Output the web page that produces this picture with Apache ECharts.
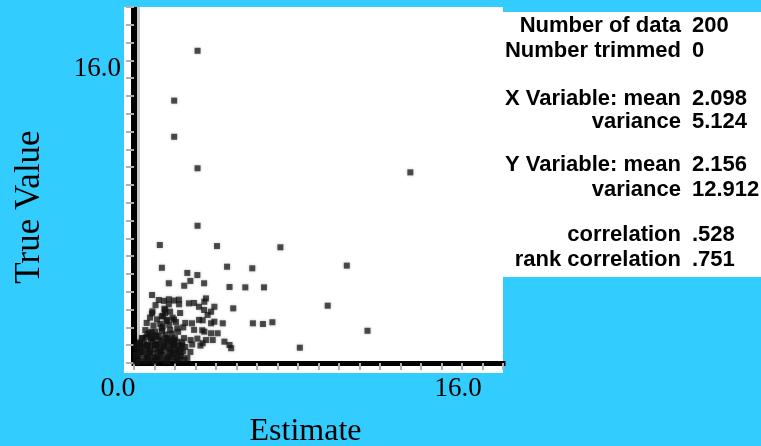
<!DOCTYPE html>
<html>
<head>
<meta charset="utf-8">
<script src="https://cdn.jsdelivr.net/npm/echarts@6/dist/echarts.min.js"></script>
<style>
html,body{margin:0;padding:0;background:#33ccff;}
#c{width:761px;height:446px;}
</style>
</head>
<body>
<div id="c"></div>
<script>
// Scatter data: Estimate (x) vs True Value (y)
const estimateValues = [
  3.10,1.96,1.96,3.10,13.48,3.10,1.26,4.05,7.14,1.36,
  4.54,5.77,10.38,9.45,11.39,8.09,4.66,5.43,6.34,5.80,
  6.29,6.75,4.84,1.70,2.60,3.09,2.75,2.45,3.42,0.88,
  1.21,1.46,1.70,1.95,2.19,2.68,2.93,3.17,0.88,1.52,
  1.76,2.25,3.42,1.62,1.95,2.50,2.83,3.17,0.55,1.03,
  1.37,1.76,2.11,2.93,3.33,0.39,0.88,1.21,1.62,1.95,
  2.44,2.76,3.09,0.64,1.03,1.46,1.95,2.35,2.84,3.24,
  0.29,0.78,1.27,1.76,2.25,2.75,0.15,0.64,1.13,1.62,
  2.11,2.60,3.51,3.43,3.92,3.76,3.59,3.35,3.76,3.92,
  4.33,3.43,3.76,4.08,3.51,3.84,4.41,4.66,4.74,3.35,
  0.10,0.20,0.30,0.45,0.55,0.70,0.85,0.95,1.05,1.20,
  1.35,1.50,1.65,1.80,1.95,2.10,2.30,2.45,0.15,0.35,
  0.50,0.65,0.80,1.00,1.15,1.30,1.45,1.60,1.75,1.90,
  2.05,2.20,0.30,0.65,2.40,0.60,0.75,0.92,1.10,1.25,
  1.40,1.55,1.70,1.85,2.00,2.15,2.35,0.18,1.35,1.48,
  0.62,0.78,0.95,1.12,1.28,1.42,1.58,1.72,1.88,2.05,
  0.08,0.22,0.38,0.58,0.72,0.88,1.02,1.18,1.32,1.48,
  1.62,1.78,1.92,2.08,2.25,2.40,0.10,0.28,0.42,0.85,
  0.68,0.82,0.98,1.08,1.22,1.38,1.52,1.68,1.82,1.98,
  2.12,2.28,0.45,2.20,1.35,1.52,1.70,0.90,1.05,2.50
];
const trueValues = [
  17.54,14.74,12.71,10.94,10.71,7.71,6.63,6.57,6.50,5.35,
  5.41,5.32,5.47,3.22,1.81,0.86,4.27,4.25,4.25,2.23,
  2.19,2.29,3.07,4.48,5.06,4.94,4.61,4.34,4.48,3.82,
  3.54,3.49,3.58,3.51,3.56,3.35,3.37,3.16,2.79,2.98,
  2.88,2.81,2.98,2.42,2.44,2.25,2.23,2.42,1.85,1.76,
  1.78,1.85,1.95,1.86,1.84,1.39,1.41,1.48,1.38,1.29,
  1.40,1.29,1.37,1.01,1.03,0.99,1.02,1.00,1.04,0.98,
  0.62,0.64,0.60,0.63,0.61,0.62,0.28,0.30,0.27,0.29,
  0.26,0.28,3.63,3.44,3.16,2.88,2.70,2.40,2.23,2.32,
  2.23,1.76,1.67,1.67,1.29,1.29,1.20,1.01,0.83,1.11,
  0.10,0.35,0.15,0.50,0.20,0.40,0.12,0.55,0.30,0.18,
  0.45,0.10,0.35,0.22,0.50,0.12,0.40,0.18,0.70,0.85,
  1.10,0.75,0.95,0.80,1.05,0.70,0.90,1.15,0.80,1.05,
  0.70,0.95,1.05,1.60,2.00,1.45,1.70,1.20,1.55,1.30,
  2.05,1.60,1.25,1.65,1.40,1.75,1.15,1.10,2.62,3.05,
  2.25,2.55,2.10,2.45,2.20,2.65,2.35,2.15,2.55,2.30,
  0.45,0.05,0.62,0.08,0.60,0.28,0.08,0.60,0.25,0.65,
  0.08,0.55,0.30,0.55,0.25,0.65,0.95,1.15,1.40,1.75,
  0.98,1.35,1.45,1.00,0.90,1.20,1.40,0.95,1.35,0.85,
  1.20,0.80,0.90,3.30,1.95,2.80,3.30,2.90,3.25,0.90
];
// Axis tick labels shown
const xTickLabels = {0: '0.0', 16: '16.0'};
const yTickLabels = {16: '16.0'};
// Statistics panel
const statLabels = ['Number of data','Number trimmed','X Variable: mean','variance','Y Variable: mean','variance','correlation','rank correlation'];
const statValues = ['200','0','2.098','5.124','2.156','12.912','.528','.751'];
const statRowY = [26, 51, 99, 122, 165, 190, 235, 260];

const points = estimateValues.map((x, i) => [x, trueValues[i]]);

const serif = '"Liberation Serif", "DejaVu Serif", serif';
const sans = '"Liberation Sans", Arial, sans-serif';

const graphics = [
  {type:'rect', z:-10, silent:true, shape:{x:124, y:7, width:379, height:366}, style:{fill:'#ffffff'}},
  {type:'rect', z:-10, silent:true, shape:{x:503, y:12, width:258, height:265}, style:{fill:'#ffffff'}}
];
statLabels.forEach((t, i) => {
  graphics.push({type:'text', z:10, x:681, y:statRowY[i], style:{text:t, fill:'#000', font:'bold 22px ' + sans, textAlign:'right', textVerticalAlign:'middle'}});
  graphics.push({type:'text', z:10, x:692, y:statRowY[i], style:{text:statValues[i], fill:'#000', font:'bold 22px ' + sans, textAlign:'left', textVerticalAlign:'middle'}});
});

const chart = echarts.init(document.getElementById('c'));
chart.setOption({
  backgroundColor: '#33ccff',
  animation: false,
  grid: {left:134, top:7, right:258, bottom:83, containLabel:false, outerBoundsMode:'none'},
  xAxis: {
    type:'value', min:0, max:18, interval:1,
    name:'Estimate', nameLocation:'middle', nameGap:53,
    nameTextStyle:{fontFamily:serif, fontSize:32, color:'#000', padding:[0,26,0,0]},
    axisLine:{show:true, onZero:false, lineStyle:{color:'#000', width:5, cap:'square'}},
    axisTick:{show:true, length:7, lineStyle:{color:'#b0b0b0', width:2}},
    axisLabel:{
      margin:12, fontFamily:serif, fontSize:27, color:'#000', showMinLabel:true, showMaxLabel:true,
      formatter: v => v === 0 ? '{a|' + xTickLabels[0] + '}' : (v === 16 ? '{b|' + xTickLabels[16] + '}' : ''),
      rich:{
        a:{fontFamily:serif, fontSize:28, color:'#000', padding:[0,32,0,0]},
        b:{fontFamily:serif, fontSize:27, color:'#000', padding:[0,8,0,0]}
      }
    },
    splitLine:{show:false}
  },
  yAxis: {
    type:'value', min:0, max:20, interval:1,
    name:'True Value', nameLocation:'middle', nameGap:87,
    nameTextStyle:{fontFamily:serif, fontSize:35, color:'#000', padding:[0,44,0,0]},
    axisLine:{show:true, onZero:false, lineStyle:{color:'#000', width:6, cap:'butt', shadowColor:'rgba(0,0,0,0.22)', shadowOffsetX:3, shadowBlur:0}},
    axisTick:{show:true, length:8, lineStyle:{color:'#b0b0b0', width:2}},
    axisLabel:{
      margin:13, fontFamily:serif, fontSize:27, color:'#000',
      formatter: v => v === 16 ? '{a|' + yTickLabels[16] + '}' : '',
      rich:{ a:{fontFamily:serif, fontSize:27, color:'#000', padding:[0,0,18,0]} }
    },
    splitLine:{show:false}
  },
  series: [{
    type:'scatter',
    data: points,
    symbol:'rect',
    symbolSize:6,
    itemStyle:{color:'rgba(20,20,20,0.9)', shadowBlur:3, shadowColor:'rgba(0,0,0,0.35)'},
    silent:true
  }],
  graphic: graphics
});
</script>
</body>
</html>
